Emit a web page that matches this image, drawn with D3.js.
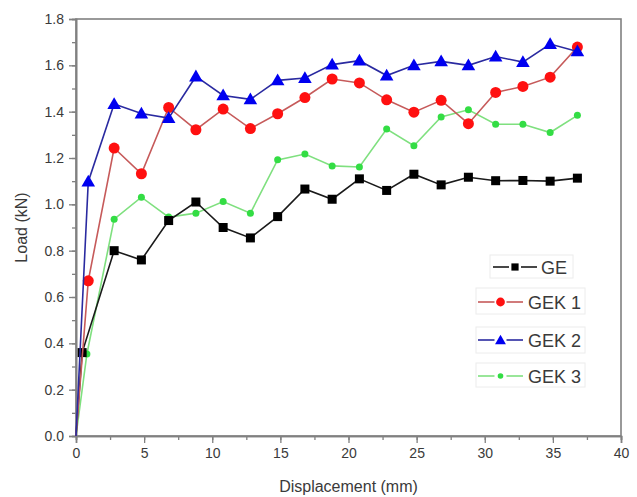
<!DOCTYPE html>
<html>
<head>
<meta charset="utf-8">
<script src="https://cdn.jsdelivr.net/npm/d3@7"></script>
<style>
body { margin: 0; background: #fff; }
text { font-family: Arial, "Liberation Sans", sans-serif; }
</style>
</head>
<body>
<script>
// data
var dispGE   = [0, 0.45, 2.8, 4.8, 6.8, 8.8, 10.8, 12.8, 14.8, 16.8, 18.8, 20.8, 22.8, 24.8, 26.8, 28.8, 30.8, 32.8, 34.8, 36.8];
var loadGE   = [0, 0.36, 0.80, 0.76, 0.93, 1.01, 0.90, 0.855, 0.947, 1.066, 1.022, 1.11, 1.06, 1.13, 1.084, 1.117, 1.102, 1.103, 1.10, 1.113];
var dispGEK  = [0, 0.9, 2.8, 4.8, 6.8, 8.8, 10.8, 12.8, 14.8, 16.8, 18.8, 20.8, 22.8, 24.8, 26.8, 28.8, 30.8, 32.8, 34.8, 36.8];
var loadGEK1 = [0, 0.67, 1.243, 1.132, 1.418, 1.322, 1.411, 1.327, 1.391, 1.461, 1.541, 1.524, 1.451, 1.398, 1.449, 1.348, 1.483, 1.509, 1.549, 1.679];
var loadGEK2 = [0, 1.098, 1.433, 1.392, 1.372, 1.552, 1.47, 1.453, 1.535, 1.545, 1.603, 1.62, 1.556, 1.60, 1.617, 1.60, 1.638, 1.614, 1.692, 1.66];
var dispGEK3 = [0, 0.8, 2.8, 4.8, 6.8, 8.8, 10.8, 12.8, 14.8, 16.8, 18.8, 20.8, 22.8, 24.8, 26.8, 28.8, 30.8, 32.8, 34.8, 36.8];
var loadGEK3 = [0, 0.354, 0.936, 1.031, 0.945, 0.962, 1.012, 0.962, 1.192, 1.217, 1.166, 1.161, 1.325, 1.253, 1.377, 1.408, 1.346, 1.346, 1.31, 1.384];
var xTicks = [0, 5, 10, 15, 20, 25, 30, 35, 40];
var yTicks = [0, 0.2, 0.4, 0.6, 0.8, 1.0, 1.2, 1.4, 1.6, 1.8];

var series = [
	{name: 'GE',    xs: dispGE,   ys: loadGE,   line: '#1a1a1a', fill: '#000000', shape: 'square'},
	{name: 'GEK 1', xs: dispGEK,  ys: loadGEK1, line: '#c65a5a', fill: '#ff1010', shape: 'circle'},
	{name: 'GEK 2', xs: dispGEK,  ys: loadGEK2, line: '#2a2aa0', fill: '#0000f0', shape: 'triangle'},
	{name: 'GEK 3', xs: dispGEK3, ys: loadGEK3, line: '#7fe07f', fill: '#33dd44', shape: 'dot'}
];

var W = 637, H = 497;
var plotL = 76, plotR = 621, plotT = 19, plotB = 436;

var svg = d3.select('body')
	.append('svg')
	.attr('width', W)
	.attr('height', H);

var x = d3.scaleLinear().domain([0, 40]).range([plotL, plotR]);
var y = d3.scaleLinear().domain([0, 1.8]).range([plotB, plotT]);

var axisColor = '#808080';

// frame
svg.append('rect')
	.attr('x', plotL).attr('y', plotT)
	.attr('width', plotR - plotL).attr('height', plotB - plotT)
	.style('fill', 'none')
	.style('stroke', axisColor)
	.style('stroke-width', 1.6);

// axes
var xMinor = d3.range(0, 40.1, 2.5);
var yMinor = d3.range(0, 1.81, 0.1);

svg.append('g')
	.attr('transform', 'translate(0,' + plotB + ')')
	.call(d3.axisBottom(x).tickValues(xMinor).tickSize(4).tickFormat(''));
svg.append('g')
	.attr('transform', 'translate(0,' + plotB + ')')
	.call(d3.axisBottom(x).tickValues(xTicks).tickSize(7).tickPadding(5).tickFormat(d3.format('d')));
svg.append('g')
	.attr('transform', 'translate(' + plotL + ',0)')
	.call(d3.axisLeft(y).tickValues(yMinor).tickSize(4).tickFormat(''));
svg.append('g')
	.attr('transform', 'translate(' + plotL + ',0)')
	.call(d3.axisLeft(y).tickValues(yTicks).tickSize(7).tickPadding(5).tickFormat(d3.format('.1f')));

svg.selectAll('.domain').style('stroke', axisColor).style('stroke-width', 1.6);
svg.selectAll('.tick line').style('stroke', axisColor).style('stroke-width', 1.3);
svg.selectAll('.tick text')
	.style('font-size', '14px')
	.style('fill', '#3a3a3a');

// axis titles
svg.append('text')
	.attr('x', (plotL + plotR) / 2)
	.attr('y', 492)
	.style('text-anchor', 'middle')
	.style('font-size', '16px')
	.style('fill', '#3a3a3a')
	.text('Displacement (mm)');
svg.append('text')
	.attr('transform', 'translate(27,' + (plotT + plotB) / 2 + ') rotate(-90)')
	.style('text-anchor', 'middle')
	.style('font-size', '16px')
	.style('fill', '#3a3a3a')
	.text('Load (kN)');

// markers, k scales the size (smaller in the legend)
var drawMarker = function(g, shape, fill, cx, cy, k) {
	k = k || 1;
	if (shape === 'square') {
		g.append('rect')
			.attr('x', cx - 4.5 * k).attr('y', cy - 4.5 * k)
			.attr('width', 9 * k).attr('height', 9 * k)
			.style('fill', fill);
	} else if (shape === 'circle') {
		g.append('circle')
			.attr('cx', cx).attr('cy', cy).attr('r', 5.5 * k)
			.style('fill', fill);
	} else if (shape === 'triangle') {
		g.append('path')
			.attr('d', d3.symbol().type(d3.symbolTriangle).size(80 * k * k)())
			.attr('transform', 'translate(' + cx + ',' + (cy + 1) + ')')
			.style('fill', fill);
	} else {
		g.append('circle')
			.attr('cx', cx).attr('cy', cy).attr('r', 3.5 * k)
			.style('fill', fill);
	}
};

var line = d3.line()
	.x(function(d) { return x(d[0]); })
	.y(function(d) { return y(d[1]); });

// GEK 3 drawn first, then GE, GEK 1, GEK 2 on top
var order = [3, 0, 1, 2];
order.forEach(function(k) {
	var s = series[k];
	var pts = s.xs.map(function(v, i) { return [v, s.ys[i]]; });
	var g = svg.append('g');
	g.append('path')
		.attr('d', line(pts))
		.style('fill', 'none')
		.style('stroke', s.line)
		.style('stroke-width', 1.6);
	pts.forEach(function(p, i) {
		if (i === 0) return;
		drawMarker(g, s.shape, s.fill, x(p[0]), y(p[1]));
	});
});

// legend
var legendRows = [
	{box: [490, 255, 83, 23], ly: 267, l0: 493, l1: 537, tx: 541},
	{box: [476, 288, 109, 26], ly: 302, l0: 478, l1: 523, tx: 528},
	{box: [476, 327, 109, 26], ly: 340, l0: 478, l1: 523, tx: 528},
	{box: [476, 363, 109, 24], ly: 376, l0: 478, l1: 523, tx: 528}
];
legendRows.forEach(function(r, k) {
	var s = series[k];
	var g = svg.append('g');
	var mid = (r.l0 + r.l1) / 2;
	g.append('rect')
		.attr('x', r.box[0]).attr('y', r.box[1])
		.attr('width', r.box[2]).attr('height', r.box[3])
		.style('fill', '#fff')
		.style('stroke', '#ececec');
	[[r.l0, mid - 6], [mid + 6, r.l1]].forEach(function(seg) {
		g.append('line')
			.attr('x1', seg[0]).attr('x2', seg[1])
			.attr('y1', r.ly).attr('y2', r.ly)
			.style('stroke', s.line)
			.style('stroke-width', 1.6);
	});
	drawMarker(g, s.shape, s.fill, mid, r.ly, 0.8);
	g.append('text')
		.attr('x', r.tx)
		.attr('y', r.ly + 6.5)
		.style('font-size', '18px')
		.style('fill', '#3a3a3a')
		.text(s.name);
});
</script>
</body>
</html>
